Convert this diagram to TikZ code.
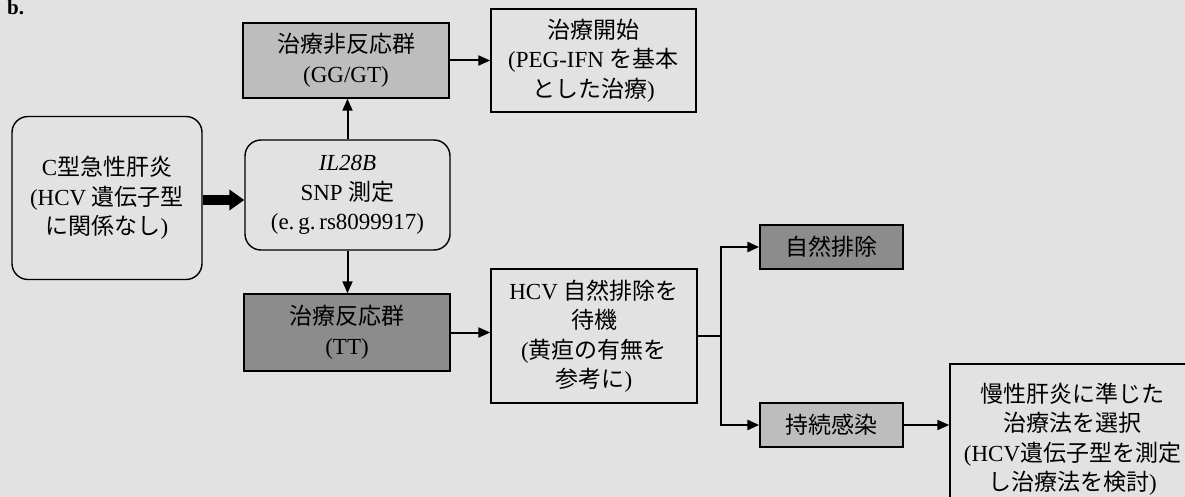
\documentclass[tikz,border=0pt]{standalone}
\usepackage{fontspec}
\setmainfont{Noto Sans CJK JP}
\newfontfamily\lt{Liberation Serif}
\usetikzlibrary{arrows.meta}
\definecolor{bgc}{HTML}{E2E2E2}
\definecolor{lightbox}{HTML}{BDBDBD}
\definecolor{darkbox}{HTML}{8C8C8C}
\tikzset{
  txt/.style={font=\fontsize{23}{29.5}\selectfont, align=center, inner sep=0pt},
  sqbox/.style={txt, draw, line width=1.4pt},
  rbox/.style={txt, draw, line width=1.4pt, rounded corners=16pt},
  arr/.style={line width=2pt, -{Triangle[length=12pt,width=10pt]}},
  branch/.style={line width=2.6pt},
  fat/.style={line width=10pt, -{Triangle[length=15pt,width=20pt]}}
}
\begin{document}
\begin{tikzpicture}[x=1pt,y=-1pt]
\useasboundingbox (0,0) rectangle (1185,497);
\clip (0,0) rectangle (1185,497);
\fill[bgc] (0,0) rectangle (1185,497);
\node[anchor=north west, inner sep=0pt, font=\lt\bfseries\fontsize{21}{22}\selectfont] (lbl) at (7,0) {b.};

\node[rbox, minimum width=190pt, minimum height=163pt] (A) at (107,198)
  {{\lt C}型急性肝炎\\{\lt (HCV }遺伝子型\\に関係なし{\lt )}};
\node[rbox, minimum width=205pt, minimum height=110pt] (B) at (347.5,195)
  {{\lt\itshape IL28B}\\{\lt SNP }測定\\{\lt (e.\,g.\,rs8099917)}};
\node[sqbox, fill=lightbox, minimum width=206pt, minimum height=75pt] (C) at (346,60.5)
  {治療非反応群\\{\lt (GG/GT)}};
\node[sqbox, minimum width=205pt, minimum height=103pt] (D) at (593.5,60.5)
  {治療開始\\{\lt (PEG-IFN }を基本\\とした治療{\lt )}};
\node[sqbox, fill=darkbox, minimum width=206pt, minimum height=77pt] (E) at (347,332.5)
  {治療反応群\\{\lt (TT)}};
\node[sqbox, minimum width=206pt, minimum height=134pt] (F) at (594,336)
  {{\lt HCV }自然排除を\\待機\\{\lt (}黄疸の有無を\\参考に{\lt )}};
\node[sqbox, fill=darkbox, minimum width=143pt, minimum height=44pt] (G) at (831.5,247)
  {自然排除};
\node[sqbox, fill=lightbox, minimum width=143pt, minimum height=44pt] (H) at (831.5,425)
  {持続感染};
\node[sqbox, minimum width=245pt, minimum height=150pt] (I) at (1072.5,439)
  {慢性肝炎に準じた\\治療法を選択\\{\lt (HCV}遺伝子型を測定\\し治療法を検討{\lt )}};

\coordinate (J) at (721,336);

\draw[fat] (A.east |- 0,200) -- (B.west |- 0,200);
\draw[arr] (B.north) -- (B.north |- C.south);
\draw[arr] (B.south) -- (B.south |- E.north);
\draw[arr] (C.east) -- (C.east -| D.west);
\draw[arr] (E.east) -- (E.east -| F.west);
\draw[branch] (F.east) -- (J);
\draw[branch, -{Triangle[length=12pt,width=10pt]}] (J) |- (G.west);
\draw[branch, -{Triangle[length=12pt,width=10pt]}] (J) |- (H.west);
\draw[arr] (H.east) -- (H.east -| I.west);
\end{tikzpicture}
\end{document}
